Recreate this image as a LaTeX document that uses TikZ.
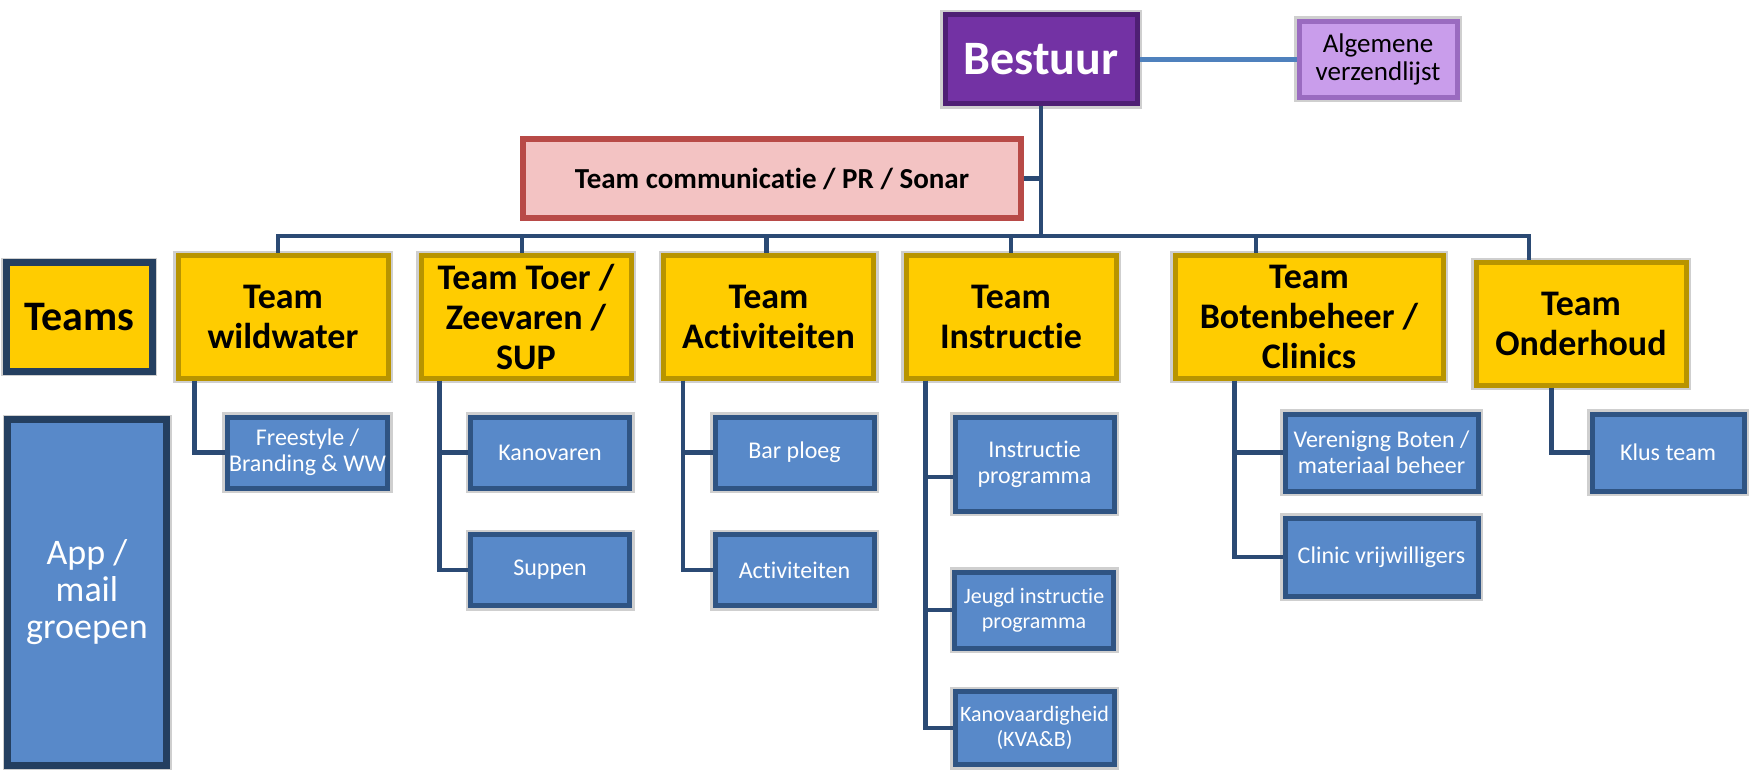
\documentclass[tikz,border=0pt]{standalone}
\usepackage{fontspec}
\setmainfont[Ligatures=NoCommon]{Carlito}
\usepackage{xcolor}
\usepackage{tikz}
\usetikzlibrary{positioning}

\definecolor{bestuurpurple}{HTML}{7332A4}
\definecolor{bestuurdark}{HTML}{4E1F74}
\definecolor{lavender}{HTML}{C99DEB}
\definecolor{lavenderdark}{HTML}{9A6BC0}
\definecolor{pinkfill}{HTML}{F3C3C3}
\definecolor{redborder}{HTML}{B84A47}
\definecolor{teamyellow}{HTML}{FFCC00}
\definecolor{yellowdark}{HTML}{B89400}
\definecolor{subblue}{HTML}{5889C9}
\definecolor{bluedark}{HTML}{2F5483}
\definecolor{navyframe}{HTML}{243F60}
\definecolor{linknavy}{HTML}{2B4A74}
\definecolor{toplinkblue}{HTML}{4F81BD}
\definecolor{framegray}{HTML}{CFCFCF}

\tikzset{
	bevel/.style={draw=#1, line width=2.5pt, preaction={draw=framegray, line width=5pt}},
	headbox/.style={rectangle, fill=bestuurpurple, bevel=bestuurdark, text=white, align=center, font=\bfseries\fontsize{24}{26}\selectfont, minimum width=96pt, minimum height=44.5pt},
	mailbox/.style={rectangle, fill=lavender, bevel=lavenderdark, align=center, inner sep=1pt, font=\fontsize{13.5}{14}\selectfont, minimum width=79pt, minimum height=38pt},
	commbox/.style={rectangle, fill=pinkfill, draw=redborder, line width=3pt, align=center, font=\bfseries\fontsize{14.5}{16}\selectfont, minimum width=249pt, minimum height=39.5pt},
	teambox/.style={rectangle, fill=teamyellow, bevel=yellowdark, align=center, inner sep=1pt, font=\bfseries\fontsize{18}{20}\selectfont, minimum width=105pt, minimum height=61pt},
	subbox/.style={rectangle, fill=subblue, bevel=bluedark, text=white, align=center, inner sep=1pt, font=\fontsize{12}{13}\selectfont, minimum width=79.5pt, minimum height=35.5pt},
	link/.style={draw=linknavy, line width=2.4pt},
	toplink/.style={draw=toplinkblue, line width=2.2pt}
}

\begin{document}
\begin{tikzpicture}[x=0.5pt, y=-0.5pt]
	\useasboundingbox (0,0) rectangle (1751,770);

	\node[headbox] (bestuur) at (1041,59.5) {Bestuur};
	\node[mailbox] (algemene) at (1378,59.5) {Algemene\\verzendlijst};
	\node[commbox] (comm) at (772,178.5) {Team communicatie / PR / Sonar};

	\node[teambox, fill=teamyellow, draw=navyframe, line width=3.5pt, preaction={}, minimum width=73pt, minimum height=54pt, font=\bfseries\fontsize{21}{23}\selectfont] (teams) at (79,317) {Teams};
	\node[teambox] (wild) at (283,317) {Team\\wildwater};
	\node[teambox] (toer) at (526,317) {Team Toer /\\Zeevaren /\\SUP};
	\node[teambox] (act) at (768.5,317) {Team\\Activiteiten};
	\node[teambox] (instr) at (1011,317) {Team\\Instructie};
	\node[teambox, minimum width=134pt] (boten) at (1309,317) {Team\\Botenbeheer /\\Clinics};
	\node[teambox] (onder) at (1581,324) {Team\\Onderhoud};

	\node[subbox, draw=navyframe, line width=3.5pt, minimum width=79.5pt, minimum height=173pt, font=\fontsize{18}{18.5}\selectfont] (app) at (87,592.5) {App /\\mail\\groepen};
	\node[subbox] (free) at (307.5,452.5) {Freestyle /\\Branding \& WW};
	\node[subbox] (kano) at (550,452.5) {Kanovaren};
	\node[subbox] (sup) at (550,570) {Suppen};
	\node[subbox] (bar) at (794.5,452.5) {Bar ploeg};
	\node[subbox] (activ) at (794.5,570) {Activiteiten};
	\node[subbox, minimum height=47pt] (iprog) at (1034.5,464) {Instructie\\programma};
	\node[subbox, minimum height=38pt, font=\fontsize{11}{12.5}\selectfont] (jeugd) at (1034,610) {Jeugd instructie\\programma};
	\node[subbox, minimum height=36.5pt, font=\fontsize{11}{12.5}\selectfont] (kva) at (1034.5,728) {Kanovaardigheid\\(KVA\&B)};
	\node[subbox, minimum width=96.5pt, minimum height=38.5pt] (vereniging) at (1381.5,452.5) {Verenigng Boten /\\materiaal beheer};
	\node[subbox, minimum width=96.5pt, minimum height=39pt] (clinic) at (1381.5,557) {Clinic vrijwilligers};
	\node[subbox, minimum width=76pt, minimum height=38.5pt] (klus) at (1668,452.5) {Klus team};

	\coordinate (bus) at (1041,236);
	\draw[toplink] (bestuur.east) -- (algemene.west);
	\draw[link] (bestuur.south) -- (bus);
	\draw[link] (comm.east) -- (comm.east -| bus);
	\foreach \t/\dx in {wild/-2.5, toer/-2, act/-1, instr/0, boten/-26.5, onder/-26}
		\draw[link] (bus) -| ([xshift=\dx pt]\t.north);
	\foreach \t/\s/\dx/\dy in {wild/free/9.5/0, toer/kano/10.5/0, toer/sup/10.5/0, act/bar/11/0, act/activ/11/0, instr/iprog/11/-6.5, instr/jeugd/11/0, instr/kva/11/0, boten/vereniging/31/0, boten/clinic/31/0, onder/klus/39/0}
		\draw[link] ([xshift=\dx pt]\t.south west) |- ([yshift=\dy pt]\s.west);
\end{tikzpicture}
\end{document}
